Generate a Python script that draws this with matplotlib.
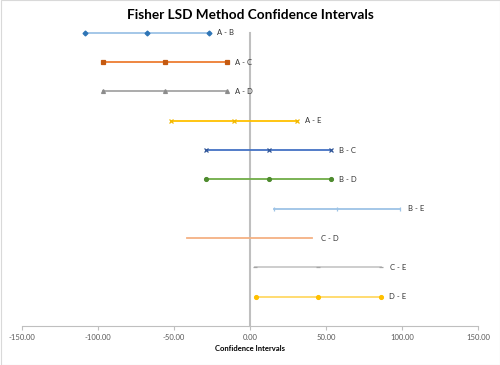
import matplotlib
matplotlib.use("Agg")
import matplotlib.pyplot as plt

plt.rcParams['font.family'] = ['Lato', 'DejaVu Sans']

pairs = ["A - B", "A - C", "A - D", "A - E", "B - C", "B - D", "B - E", "C - D", "C - E", "D - E"]
lower = [-108.6, -96.7, -96.7, -52.0, -28.9, -28.9, 16.0, -41.2, 3.1, 3.7]
center = [-67.8, -55.9, -55.9, -10.3, 12.3, 12.3, 57.5, -0.1, 44.5, 44.7]
upper = [-27.0, -15.1, -15.1, 30.7, 53.3, 53.3, 98.7, 41.0, 86.4, 86.0]
xticks = [-150, -100, -50, 0, 50, 100, 150]

line_colors = ["#9DC3E6", "#ED7D31", "#A5A5A5", "#FFC000", "#4472C4", "#70AD47",
               "#9DC3E6", "#F4B183", "#C9C9C9", "#FFD966"]
marker_colors = ["#2E75B6", "#C55A11", "#8C8C8C", "#F2B800", "#2F5597", "#4E8B2E",
                 "#9DC3E6", "#F4B183", "#A5A5A5", "#FFC000"]
markers = ["D", "s", "^", "x", "x", "o", "|", "None", "_", "o"]
msizes = [2.5, 2.8, 2.8, 3.2, 3.0, 2.8, 3.2, 0, 3.0, 2.8]

fig = plt.figure(figsize=(5, 3.65), dpi=100)
ax = fig.add_axes([0.044, 0.107, 0.912, 0.803])

n = len(pairs)
for i, p in enumerate(pairs):
    y = n - i
    ax.plot([lower[i], center[i], upper[i]], [y, y, y], color=line_colors[i], lw=1.3,
            marker=markers[i], ms=msizes[i], mfc=marker_colors[i], mec=marker_colors[i],
            mew=0.9, clip_on=False, zorder=3)
    ax.annotate(p, (upper[i], y), xytext=(6, 0), textcoords="offset points",
                va="center", ha="left", fontsize=5.5, color="#333333")

ax.set_xlim(-150, 150)
ax.set_ylim(0, n)
ax.set_xticks(xticks)
ax.set_xticklabels([f"{v:.2f}" for v in xticks], fontsize=5.5, color="#595959")
ax.set_yticks([])
ax.tick_params(axis='x', length=3, color="#BFBFBF", width=0.8, pad=3)
for s in ["top", "right"]:
    ax.spines[s].set_visible(False)
ax.spines["left"].set_position(("data", 0))
ax.spines["left"].set_color("#BFBFBF")
ax.spines["left"].set_linewidth(1.5)
ax.spines["bottom"].set_color("#BFBFBF")
ax.spines["bottom"].set_linewidth(0.8)
ax.set_xlabel("Confidence Intervals", fontsize=5.5, fontweight="bold", labelpad=3)
fig.text(0.5, 0.958, "Fisher LSD Method Confidence Intervals", ha="center", va="center",
         fontsize=9.8, fontweight="bold")
fig.patches.append(plt.Rectangle((0.001, 0.001), 0.998, 0.998, transform=fig.transFigure,
                                 fill=False, ec="#D9D9D9", lw=0.8))
fig.savefig("out.png", dpi=100)
